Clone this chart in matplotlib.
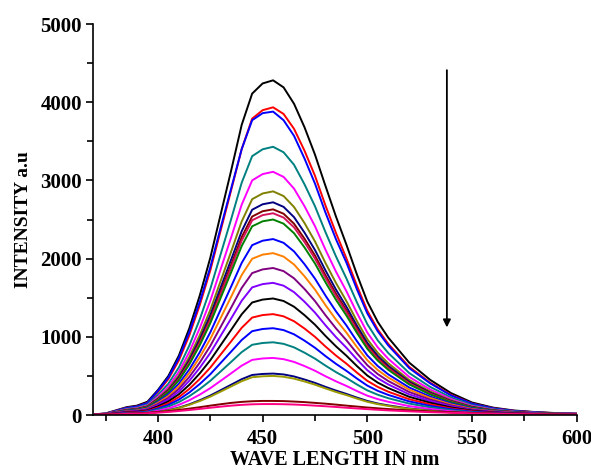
import matplotlib
matplotlib.use("Agg")
import matplotlib.pyplot as plt
from matplotlib.ticker import MultipleLocator

# emission wavelengths (nm)
wavelength = [370, 375, 380, 385, 390, 395, 400, 405, 410, 415, 420, 425, 430, 435,
              440, 445, 450, 455, 460, 465, 470, 475, 480, 485, 490, 495, 500, 505,
              510, 520, 530, 540, 550, 560, 570, 580, 590, 600]

# intensity of each spectrum (a.u), top curve first
s01_black = [10, 20, 60, 100, 120, 170, 320, 500, 760, 1110, 1530, 2010, 2570, 3130, 3710, 4110, 4240, 4280, 4190, 3980, 3680, 3330, 2930, 2540, 2180, 1800, 1450, 1190, 990, 670, 450, 280, 160, 95, 58, 38, 25, 18]
s02_red = [9, 18, 55, 92, 110, 156, 294, 460, 699, 1020, 1407, 1848, 2363, 2878, 3400, 3790, 3898, 3935, 3850, 3660, 3380, 3060, 2680, 2330, 2004, 1655, 1333, 1094, 910, 616, 414, 257, 147, 87, 54, 35, 23, 17]
s03_blue = [9, 18, 54, 91, 109, 154, 310, 480, 730, 1060, 1450, 1890, 2400, 2900, 3400, 3770, 3860, 3880, 3770, 3570, 3280, 2960, 2590, 2250, 1950, 1610, 1300, 1070, 890, 600, 405, 250, 145, 86, 53, 35, 22, 16]
s04_teal = [8, 16, 48, 80, 96, 136, 257, 401, 609, 889, 1226, 1611, 2060, 2508, 2970, 3310, 3398, 3430, 3360, 3200, 2950, 2670, 2340, 2030, 1747, 1443, 1162, 954, 793, 537, 360, 224, 128, 76, 47, 31, 20, 14]
s05_magenta = [7, 15, 44, 73, 87, 123, 233, 363, 552, 806, 1112, 1460, 1868, 2274, 2690, 3000, 3081, 3110, 3045, 2895, 2670, 2415, 2115, 1835, 1584, 1308, 1054, 865, 719, 487, 327, 203, 116, 69, 42, 28, 18, 13]
s06_olive = [7, 13, 40, 67, 80, 114, 214, 334, 508, 742, 1022, 1343, 1717, 2092, 2475, 2760, 2833, 2860, 2800, 2660, 2455, 2220, 1945, 1690, 1457, 1203, 969, 795, 662, 448, 301, 187, 107, 63, 39, 25, 17, 12]
s07_navy = [6, 13, 38, 64, 76, 108, 203, 318, 483, 705, 972, 1277, 1633, 1989, 2350, 2625, 2695, 2720, 2662, 2530, 2333, 2110, 1850, 1605, 1385, 1144, 922, 756, 629, 426, 286, 178, 102, 60, 37, 24, 16, 11]
s08_wine = [6, 12, 37, 62, 74, 104, 197, 307, 467, 682, 940, 1235, 1579, 1923, 2275, 2538, 2606, 2630, 2574, 2446, 2255, 2040, 1788, 1552, 1339, 1106, 891, 731, 608, 412, 276, 172, 98, 58, 36, 23, 15, 11]
s09_crimson = [6, 12, 36, 60, 72, 102, 193, 301, 458, 669, 922, 1212, 1549, 1887, 2230, 2490, 2556, 2580, 2525, 2400, 2212, 2000, 1753, 1522, 1314, 1085, 874, 717, 597, 404, 271, 169, 96, 57, 35, 23, 15, 11]
s10_green = [6, 12, 35, 58, 70, 99, 187, 292, 444, 648, 894, 1174, 1501, 1828, 2160, 2413, 2477, 2500, 2447, 2325, 2143, 1938, 1698, 1475, 1273, 1052, 847, 695, 578, 391, 263, 164, 94, 56, 34, 22, 15, 11]
s11_blue = [5, 11, 32, 53, 63, 89, 168, 263, 400, 583, 804, 1057, 1351, 1645, 1945, 2172, 2229, 2250, 2202, 2092, 1929, 1744, 1528, 1327, 1146, 946, 762, 626, 520, 352, 236, 147, 84, 50, 31, 20, 13, 9]
s12_orange = [5, 10, 29, 48, 58, 82, 155, 242, 368, 537, 740, 972, 1243, 1514, 1790, 1998, 2051, 2070, 2026, 1925, 1774, 1604, 1406, 1221, 1054, 871, 701, 575, 479, 324, 218, 135, 77, 46, 28, 18, 12, 9]
s13_purple = [4, 9, 26, 44, 53, 75, 141, 220, 334, 487, 672, 883, 1129, 1375, 1625, 1815, 1862, 1880, 1840, 1748, 1612, 1457, 1277, 1109, 957, 791, 637, 523, 435, 294, 198, 123, 70, 42, 26, 17, 11, 8]
s14_violet = [4, 8, 24, 40, 47, 67, 126, 197, 300, 438, 604, 794, 1015, 1236, 1461, 1632, 1674, 1690, 1654, 1571, 1449, 1310, 1148, 997, 861, 711, 573, 470, 391, 264, 178, 110, 63, 38, 23, 15, 10, 7]
s15_black = [3, 7, 21, 35, 42, 59, 111, 174, 265, 386, 533, 700, 895, 1090, 1288, 1439, 1476, 1490, 1458, 1385, 1277, 1155, 1012, 879, 759, 627, 505, 414, 345, 233, 157, 97, 56, 33, 20, 13, 9, 6]
s16_red = [3, 6, 18, 30, 36, 51, 96, 151, 229, 334, 461, 606, 775, 943, 1115, 1246, 1278, 1290, 1262, 1199, 1106, 1000, 876, 761, 657, 543, 437, 359, 298, 202, 136, 84, 48, 29, 18, 11, 7, 5]
s17_blue = [3, 5, 16, 26, 31, 44, 83, 130, 197, 288, 397, 521, 667, 812, 959, 1072, 1100, 1110, 1086, 1032, 951, 860, 754, 655, 565, 467, 376, 309, 257, 174, 117, 73, 42, 25, 15, 10, 6, 5]
s18_teal = [2, 4, 13, 22, 26, 37, 70, 109, 165, 241, 332, 437, 558, 680, 804, 898, 921, 930, 910, 865, 797, 721, 632, 549, 474, 391, 315, 259, 215, 146, 98, 61, 35, 21, 13, 8, 5, 4]
s19_magenta = [2, 3, 10, 17, 20, 29, 55, 85, 130, 189, 261, 343, 438, 534, 631, 705, 723, 730, 714, 679, 626, 566, 496, 431, 372, 307, 247, 203, 169, 114, 77, 48, 27, 16, 10, 6, 4, 3]
s20_navy = [1, 2, 7, 12, 15, 21, 40, 62, 94, 137, 189, 249, 318, 388, 458, 512, 525, 530, 519, 493, 454, 411, 360, 313, 270, 223, 180, 147, 123, 83, 56, 35, 20, 12, 7, 5, 3, 2]
s21_olive = [1, 2, 7, 12, 14, 20, 37, 58, 89, 130, 179, 235, 300, 366, 432, 483, 495, 500, 489, 465, 429, 388, 340, 295, 255, 210, 169, 139, 116, 78, 53, 33, 19, 11, 7, 4, 3, 2]
s22_wine = [5, 8, 12, 18, 22, 28, 38, 50, 65, 82, 100, 120, 138, 155, 168, 176, 180, 180, 178, 172, 165, 155, 145, 133, 120, 108, 96, 86, 76, 60, 46, 36, 27, 20, 15, 11, 8, 6]
s23_pink = [4, 6, 9, 14, 17, 22, 30, 39, 51, 64, 78, 93, 107, 120, 130, 137, 140, 140, 138, 134, 128, 120, 112, 103, 93, 84, 75, 67, 59, 47, 36, 28, 21, 16, 12, 9, 6, 5]

spectra = [s01_black, s02_red, s03_blue, s04_teal, s05_magenta, s06_olive, s07_navy,
           s08_wine, s09_crimson, s10_green, s11_blue, s12_orange, s13_purple,
           s14_violet, s15_black, s16_red, s17_blue, s18_teal, s19_magenta,
           s20_navy, s21_olive, s22_wine, s23_pink]
colors = ["#000000", "#ff0000", "#0000ff", "#008080", "#ff00ff", "#808000", "#000080",
          "#800000", "#d4145a", "#008000", "#0000ff", "#ff8000", "#800080",
          "#8000ff", "#000000", "#ff0000", "#0000ff", "#008080", "#ff00ff",
          "#000080", "#9a9a00", "#800000", "#ff0080"]

# quenching arrow (data coords)
arrow_x = 538
arrow_start = 4410
arrow_end = 1120

plt.rcParams["font.family"] = ["Liberation Serif", "DejaVu Serif"]
plt.rcParams["font.weight"] = "bold"

fig = plt.figure(figsize=(5.91, 4.70), dpi=100)
ax = fig.add_axes([0.1574, 0.117, 0.8184, 0.8319])

for vals, col in zip(spectra, colors):
    ax.plot(wavelength, vals, color=col, lw=1.4, solid_joinstyle="round")

ax.annotate("", xy=(arrow_x, arrow_end), xytext=(arrow_x, arrow_start),
            arrowprops=dict(arrowstyle="-|>", color="black", lw=1.3,
                            mutation_scale=11, shrinkA=0, shrinkB=0))

ax.set_xlim(369, 600)
ax.set_ylim(0, 5000)
ax.xaxis.set_major_locator(MultipleLocator(50))
ax.xaxis.set_minor_locator(MultipleLocator(25))
ax.yaxis.set_major_locator(MultipleLocator(1000))
ax.yaxis.set_minor_locator(MultipleLocator(500))

for side in ["top", "right"]:
    ax.spines[side].set_visible(False)
for side in ["left", "bottom"]:
    ax.spines[side].set_linewidth(1.2)

ax.tick_params(which="major", direction="out", length=5, width=1.2, labelsize=15)
ax.tick_params(which="minor", direction="out", length=4, width=1.2)
ax.tick_params(axis="x", pad=5)
ax.tick_params(axis="y", pad=3)

ax.set_xlabel("WAVE LENGTH IN nm", fontsize=14.5, fontweight="bold", labelpad=1)
ax.set_ylabel("INTENSITY a.u", fontsize=14, fontweight="bold", labelpad=6)

fig.savefig("out.png", dpi=100)
